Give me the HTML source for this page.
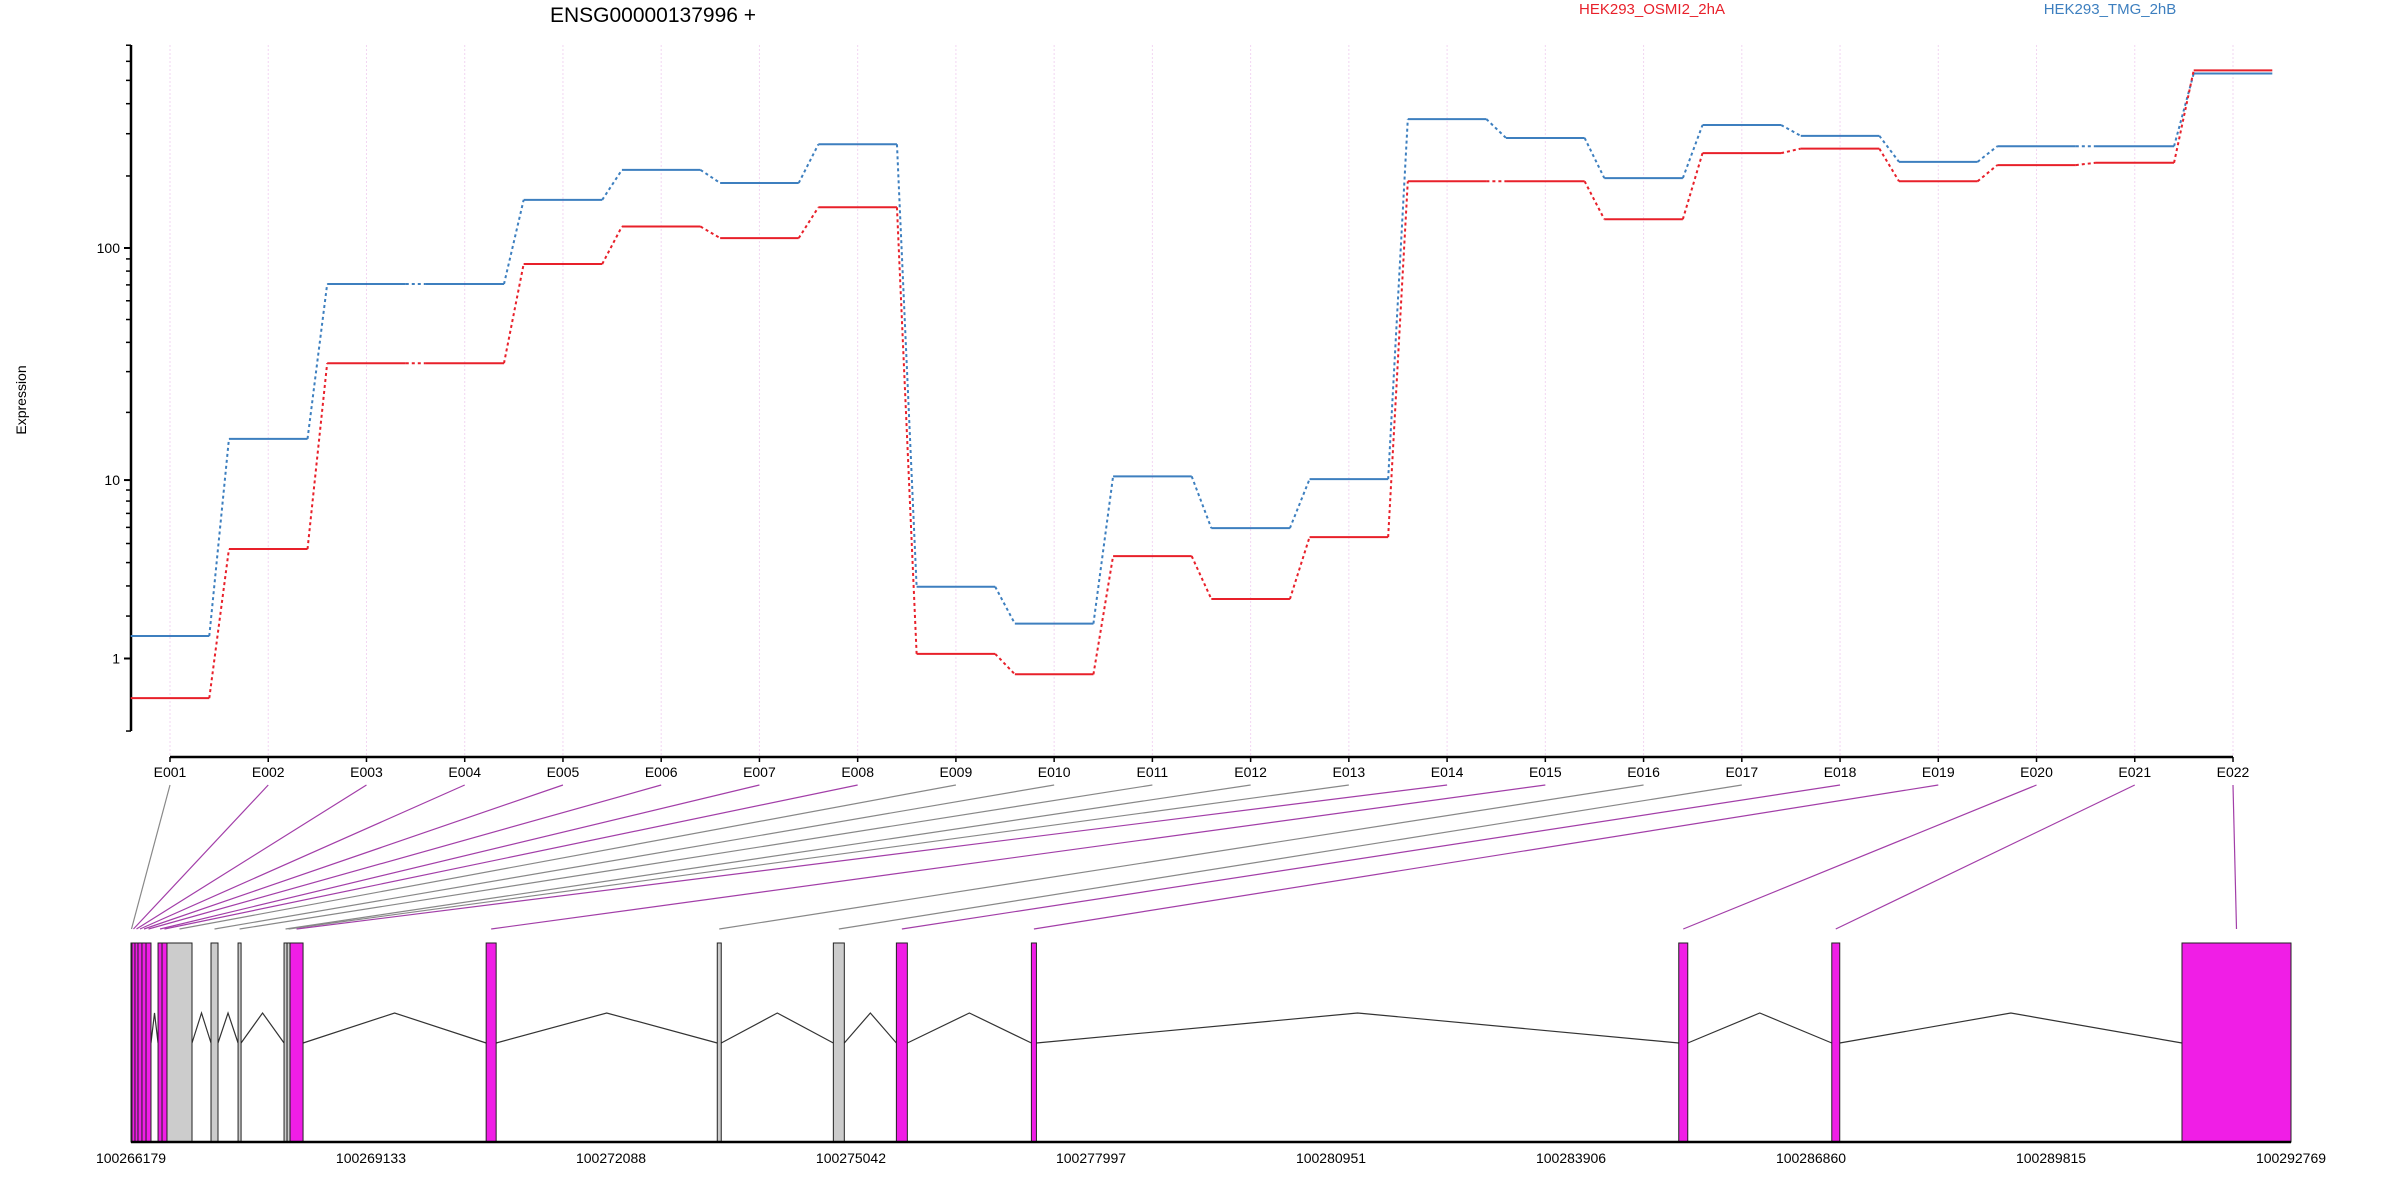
<!DOCTYPE html>
<html><head><meta charset="utf-8">
<style>
html,body{margin:0;padding:0;background:#fff;}
svg{display:block;font-family:"Liberation Sans",sans-serif;}
</style></head>
<body>
<svg id="chart" width="2400" height="1200" viewBox="0 0 2400 1200" xmlns="http://www.w3.org/2000/svg">
  <text x="653" y="22" font-size="21" text-anchor="middle" fill="#000">ENSG00000137996 +</text>
  <text x="1652" y="14" font-size="15" text-anchor="middle" fill="#e8202a">HEK293_OSMI2_2hA</text>
  <text x="2110" y="14" font-size="15" text-anchor="middle" fill="#3d7fbf">HEK293_TMG_2hB</text>
  <text x="0" y="0" font-size="14" text-anchor="middle" transform="translate(26,400) rotate(-90)">Expression</text>
  <g id="grid"></g>
  <g id="axes"></g>
  <g id="series"></g>
  <g id="connectors"></g>
  <g id="genemodel"></g>
</svg>
<script>
const exonLabels = ["E001","E002","E003","E004","E005","E006","E007","E008","E009","E010","E011","E012","E013","E014","E015","E016","E017","E018","E019","E020","E021","E022"];
const osmiValues = [0.37,4.69,32.6,32.6,85.7,123,110,148,1.09,0.72,4.32,2.53,5.38,190,190,132,249,260,190,222,227,550];
const tmgValues = [1.48,15.3,70.6,70.6,159,212,187,271,2.97,1.79,10.4,5.95,10.1,345,288,196,326,294,229,266,266,534];
const significant = [false,true,true,true,true,true,true,true,false,false,false,false,false,true,true,false,false,true,true,true,true,true];
const exonStart = [100266179,100266191,100266228,100266265,100266314,100266364,100266512,100266561,100266622,100267164,100267497,100268063,100268100,100268137,100270551,100273396,100274825,100275601,100277263,100285232,100287116,100291427];
const exonEnd = [100266191,100266228,100266265,100266314,100266364,100266425,100266561,100266622,100266930,100267250,100267534,100268100,100268137,100268297,100270674,100273445,100274960,100275736,100277325,100285343,100287214,100292769];
const yTickLabels = ["1","10","100"];
const yTickValues = [1,10,100];
const yMinorValues = [0,2,3,4,5,6,7,8,9,20,30,40,50,60,70,80,90,200,300,400,500,600,700];
const genomeTickLabels = ["100266179","100269133","100272088","100275042","100277997","100280951","100283906","100286860","100289815","100292769"];

const NS="http://www.w3.org/2000/svg";
function mk(tag, parent){const e=document.createElementNS(NS,tag);parent.appendChild(e);return e;}
// axis functions
const yAxisX=131, yTop=45, yBot=731;
function yScale(v){return 248-(Math.log10(v+1)-Math.log10(101))*241;}
const xFirst=170, xStep=(2233-170)/21;
function xScale(i){return xFirst+i*xStep;}
const gMin=100266179, gMax=100292769, gx0=131, gx1=2291;
function gScale(g){return gx0+(g-gMin)/(gMax-gMin)*(gx1-gx0);}

const grid=document.getElementById('grid'), axes=document.getElementById('axes'), series=document.getElementById('series');
// grid
exonLabels.forEach((lab,i)=>{
  const l=mk('line',grid);
  
  
  l.setAttribute('x1',xScale(i));l.setAttribute('x2',xScale(i));l.setAttribute('y1',yTop);l.setAttribute('y2',757);
  l.setAttribute('stroke','#f2d6f2');l.setAttribute('stroke-width','1');l.setAttribute('stroke-dasharray','2,2');
});
// y axis
let ya=mk('line',axes);


ya.setAttribute('x1',yAxisX);ya.setAttribute('x2',yAxisX);ya.setAttribute('y1',yTop);ya.setAttribute('y2',yBot);ya.setAttribute('stroke','#000');ya.setAttribute('stroke-width','2.5');
yMinorValues.forEach(v=>{
  const t=mk('line',axes);
  
  
  t.setAttribute('x1',yAxisX-5);t.setAttribute('x2',yAxisX);t.setAttribute('y1',yScale(v));t.setAttribute('y2',yScale(v));t.setAttribute('stroke','#000');t.setAttribute('stroke-width','1.5');
});
yTickValues.forEach((v,i)=>{
  const t=mk('line',axes);
  
  
  t.setAttribute('x1',yAxisX-7);t.setAttribute('x2',yAxisX);t.setAttribute('y1',yScale(v));t.setAttribute('y2',yScale(v));t.setAttribute('stroke','#000');t.setAttribute('stroke-width','2');
  const tx=mk('text',axes);
  
  
  tx.setAttribute('x',yAxisX-11);tx.setAttribute('y',yScale(v)+5);tx.setAttribute('font-size','14');tx.setAttribute('text-anchor','end');
  tx.textContent=yTickLabels[i];
});
// x axis
let xa=mk('line',axes);


xa.setAttribute('x1',xScale(0));xa.setAttribute('x2',xScale(exonLabels.length-1));xa.setAttribute('y1',757);xa.setAttribute('y2',757);xa.setAttribute('stroke','#000');xa.setAttribute('stroke-width','2.5');
exonLabels.forEach((lab,i)=>{
  const t=mk('line',axes);
  
  
  t.setAttribute('x1',xScale(i));t.setAttribute('x2',xScale(i));t.setAttribute('y1',757);t.setAttribute('y2',762);t.setAttribute('stroke','#000');t.setAttribute('stroke-width','1.5');
  const tx=mk('text',axes);
  
  
  tx.setAttribute('x',xScale(i));tx.setAttribute('y',777);tx.setAttribute('font-size','14');tx.setAttribute('text-anchor','middle');
  tx.textContent=lab;
});
// series
function drawSeries(vals,color,name){
  const g=mk('g',series);
  
  
  vals.forEach((v,i)=>{
    const y=yScale(v);
    const s=mk('line',g);
    
    
    s.setAttribute('x1',xScale(i)-0.4*xStep);s.setAttribute('x2',xScale(i)+0.4*xStep);s.setAttribute('y1',y);s.setAttribute('y2',y);
    s.setAttribute('stroke',color);s.setAttribute('stroke-width','2');
    if(i<vals.length-1){
      const c=mk('line',g);
      
      
      c.setAttribute('x1',xScale(i)+0.4*xStep);c.setAttribute('x2',xScale(i+1)-0.4*xStep);c.setAttribute('y1',y);c.setAttribute('y2',yScale(vals[i+1]));
      c.setAttribute('stroke',color);c.setAttribute('stroke-width','2');c.setAttribute('stroke-dasharray','3,3');
    }
  });
}
drawSeries(tmgValues,'#3d7fbf','series-tmg');
drawSeries(osmiValues,'#e8202a','series-osmi2');

// gene model
const conn=document.getElementById('connectors'), gm=document.getElementById('genemodel');
const boxTop=943, boxBot=1142, intLow=1043, intHigh=1013;
exonLabels.forEach((lab,i)=>{
  const cx=(gScale(exonStart[i])+gScale(exonEnd[i]))/2;
  const l=mk('line',conn);
  
  
  l.setAttribute('x1',xScale(i));l.setAttribute('y1',785);l.setAttribute('x2',cx);l.setAttribute('y2',929);
  l.setAttribute('stroke',significant[i]?'#a23ea8':'#888');l.setAttribute('stroke-width','1.2');
});
// introns
for(let i=0;i<exonLabels.length-1;i++){
  const a=gScale(exonEnd[i]), b=gScale(exonStart[i+1]);
  if(b-a<2) continue;
  const p=mk('polyline',gm);
  
  
  p.setAttribute('points',a+','+intLow+' '+((a+b)/2)+','+intHigh+' '+b+','+intLow);
  p.setAttribute('fill','none');p.setAttribute('stroke','#333');p.setAttribute('stroke-width','1.2');
}
exonLabels.forEach((lab,i)=>{
  const x0=gScale(exonStart[i]), x1=gScale(exonEnd[i]);
  const r=mk('rect',gm);
  
  
  r.setAttribute('x',x0);r.setAttribute('y',boxTop);r.setAttribute('width',Math.max(1.5,x1-x0));r.setAttribute('height',boxBot-boxTop);
  r.setAttribute('fill',significant[i]?'#f01ee6':'#cccccc');r.setAttribute('stroke','#222');r.setAttribute('stroke-width','1');
});
let ga=mk('line',gm);


ga.setAttribute('x1',gx0);ga.setAttribute('x2',gx1);ga.setAttribute('y1',boxBot);ga.setAttribute('y2',boxBot);ga.setAttribute('stroke','#000');ga.setAttribute('stroke-width','2.5');
genomeTickLabels.forEach((lab)=>{
  const tx=mk('text',gm);
  
  
  tx.setAttribute('x',gScale(Number(lab)));tx.setAttribute('y',1163);tx.setAttribute('font-size','14');tx.setAttribute('text-anchor','middle');
  tx.textContent=lab;
});
</script>
</body></html>
